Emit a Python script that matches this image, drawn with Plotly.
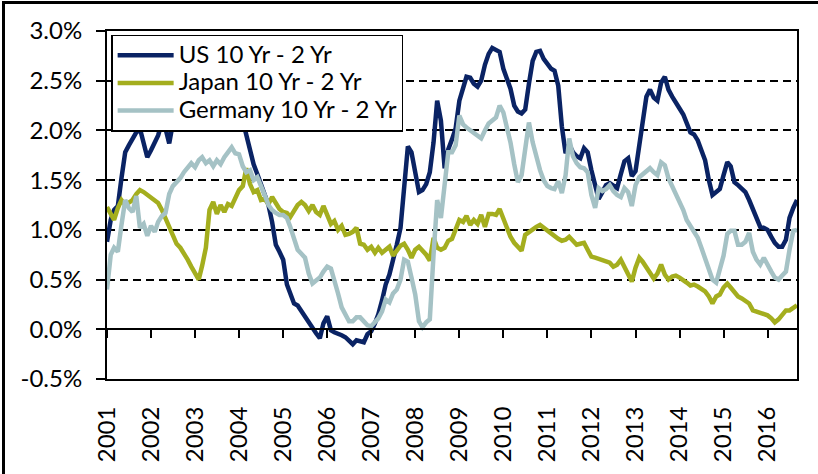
import pandas as pd
import plotly.graph_objects as go

# Monthly 10y-2y yield-curve spreads (%), Jan 2001 - Sep 2016
months = pd.date_range("2001-01-01", "2016-09-01", freq="MS")

us_spread = [
    0.88, 1.10, 1.20, 1.24, 1.52, 1.78, 1.85, 1.92, 1.98, 2.02, 1.85, 1.73,
    1.80, 1.88, 1.95, 2.08, 2.02, 1.87, 2.07, 2.18, 2.30, 2.45, 2.40, 2.35,
    2.30, 2.20, 2.10, 2.25, 2.40, 2.50, 2.55, 2.60, 2.65, 2.55, 2.50, 2.40,
    2.25, 2.08, 1.92, 1.77, 1.66, 1.56, 1.46, 1.36, 1.25, 1.08, 0.85, 0.78,
    0.70, 0.45, 0.35, 0.26, 0.24, 0.18, 0.12, 0.06, 0.02, -0.04, -0.09, 0.06,
    0.13, -0.01, -0.03, -0.04, -0.06, -0.08, -0.12, -0.15, -0.11, -0.12, -0.13, -0.05,
    -0.02, 0.06, 0.15, 0.29, 0.45, 0.55, 0.68, 0.85, 1.02, 1.45, 1.84, 1.78,
    1.56, 1.38, 1.40, 1.46, 1.58, 1.88, 2.30, 2.10, 1.62, 1.81, 1.91, 2.02,
    2.30, 2.44, 2.54, 2.53, 2.47, 2.44, 2.50, 2.66, 2.77, 2.83, 2.81, 2.79,
    2.62, 2.52, 2.42, 2.25, 2.19, 2.17, 2.21, 2.47, 2.70, 2.79, 2.80, 2.72,
    2.67, 2.62, 2.60, 2.45, 2.04, 1.77, 1.86, 1.78, 1.74, 1.72, 1.82, 1.78,
    1.60, 1.44, 1.31, 1.38, 1.45, 1.47, 1.45, 1.42, 1.56, 1.69, 1.72, 1.54,
    1.59, 1.84, 2.10, 2.34, 2.41, 2.33, 2.30, 2.48, 2.54, 2.41, 2.34, 2.29,
    2.22, 2.16, 2.08, 1.98, 1.96, 1.90, 1.80, 1.70, 1.50, 1.35, 1.38, 1.41,
    1.55, 1.68, 1.64, 1.48, 1.45, 1.42, 1.38, 1.30, 1.20, 1.12, 1.03, 1.02,
    1.00, 0.93, 0.87, 0.83, 0.83, 0.90, 1.12, 1.22, 1.30,
]

japan_spread = [
    1.23, 1.15, 1.10, 1.22, 1.30, 1.25, 1.28, 1.30, 1.36, 1.40, 1.38, 1.35,
    1.33, 1.30, 1.27, 1.20, 1.12, 1.02, 0.94, 0.86, 0.82, 0.77, 0.70, 0.63,
    0.56, 0.50, 0.64, 0.82, 1.20, 1.28, 1.16, 1.25, 1.18, 1.26, 1.24, 1.33,
    1.40, 1.44, 1.62, 1.46, 1.38, 1.40, 1.30, 1.31, 1.26, 1.33, 1.27, 1.21,
    1.18, 1.17, 1.13, 1.19, 1.25, 1.28, 1.25, 1.19, 1.25, 1.18, 1.15, 1.24,
    1.14, 1.06, 1.09, 1.00, 1.04, 0.95, 0.96, 0.98, 1.02, 0.86, 0.85, 0.80,
    0.83, 0.77, 0.82, 0.77, 0.80, 0.83, 0.74, 0.80, 0.84, 0.86, 0.80, 0.72,
    0.80, 0.83, 0.79, 0.75, 0.69, 0.92, 0.82, 0.80, 0.82, 0.89, 0.91, 1.00,
    1.10, 1.08, 1.14, 1.05, 1.10, 1.06, 1.15, 1.03, 1.16, 1.16, 1.15, 1.21,
    1.12, 1.02, 0.93, 0.87, 0.83, 0.79, 0.95, 0.98, 1.01, 1.03, 1.05, 1.02,
    0.99, 0.96, 0.93, 0.91, 0.89, 0.90, 0.93, 0.89, 0.85, 0.86, 0.87, 0.80,
    0.73, 0.72, 0.71, 0.70, 0.68, 0.67, 0.63, 0.65, 0.70, 0.62, 0.55, 0.48,
    0.62, 0.72, 0.68, 0.62, 0.56, 0.51, 0.56, 0.65, 0.55, 0.50, 0.53, 0.54,
    0.52, 0.50, 0.47, 0.44, 0.45, 0.43, 0.40, 0.38, 0.33, 0.26, 0.33, 0.35,
    0.42, 0.46, 0.42, 0.37, 0.33, 0.31, 0.29, 0.26, 0.19, 0.18, 0.17, 0.16,
    0.14, 0.11, 0.07, 0.10, 0.15, 0.19, 0.19, 0.21, 0.24,
]

germany_spread = [
    0.40, 0.75, 0.82, 0.78, 1.05, 1.30, 1.22, 1.18, 1.34, 1.02, 1.06, 0.94,
    1.04, 0.98, 1.08, 1.14, 1.17, 1.36, 1.44, 1.48, 1.52, 1.58, 1.63, 1.67,
    1.63, 1.70, 1.73, 1.67, 1.70, 1.64, 1.70, 1.66, 1.73, 1.78, 1.83, 1.77,
    1.76, 1.64, 1.58, 1.60, 1.50, 1.53, 1.45, 1.35, 1.25, 1.20, 1.17, 1.15,
    1.15, 1.12, 1.03, 0.92, 0.80, 0.76, 0.72, 0.56, 0.46, 0.49, 0.52, 0.58,
    0.63, 0.61, 0.50, 0.36, 0.22, 0.14, 0.08, 0.08, 0.12, 0.12, 0.07, 0.04,
    0.03, 0.07, 0.11, 0.18, 0.30, 0.27, 0.36, 0.40, 0.50, 0.70, 0.68, 0.52,
    0.35, 0.08, 0.02, 0.07, 0.10, 0.75, 1.30, 1.12, 1.44, 1.78, 1.78, 1.85,
    2.15, 2.06, 2.03, 2.00, 1.97, 1.94, 1.92, 2.00, 2.07, 2.10, 2.13, 2.25,
    2.18, 2.02, 1.88, 1.66, 1.48, 1.55, 1.80, 2.08, 1.88, 1.72, 1.60, 1.50,
    1.44, 1.42, 1.41, 1.49, 1.37, 1.55, 1.92, 1.74, 1.67, 1.63, 1.62, 1.58,
    1.35, 1.22, 1.42, 1.39, 1.41, 1.45, 1.39, 1.35, 1.33, 1.42, 1.38, 1.24,
    1.45, 1.53, 1.56, 1.60, 1.62, 1.58, 1.55, 1.68, 1.65, 1.52, 1.44, 1.36,
    1.28, 1.20, 1.10, 1.04, 1.00, 0.92, 0.82, 0.70, 0.58, 0.50, 0.47, 0.62,
    0.74, 0.96, 0.99, 0.99, 0.85, 0.85, 0.88, 0.97, 0.78, 0.70, 0.65, 0.72,
    0.66, 0.58, 0.52, 0.50, 0.54, 0.58, 0.80, 0.99, 1.00,
]

series_names = ["US 10 Yr - 2 Yr", "Japan 10 Yr - 2 Yr", "Germany 10 Yr - 2 Yr"]
series_colors = ["#0A2364", "#A4AE1E", "#A5C2C5"]

year_labels = [str(y) for y in range(2001, 2017)]
year_ticks = [f"{y}-01-01" for y in year_labels]

y_ticks = [-0.5, 0.0, 0.5, 1.0, 1.5, 2.0, 2.5, 3.0]
y_labels = ["-0.5%", "0.0%", "0.5%", "1.0%", "1.5%", "2.0%", "2.5%", "3.0%"]

FONT = "Lato, 'Liberation Sans', Arial, sans-serif"
TEXT_SIZE = 24
X_END = "2016-09-01"

fig = go.Figure()
for name, vals, col in zip(series_names, [us_spread, japan_spread, germany_spread], series_colors):
    fig.add_trace(go.Scatter(
        x=months, y=vals, mode="lines",
        # larger glyphs than the legend's own font keep the rows compact
        name=f'<span style="font-size:{TEXT_SIZE}px">{name}</span>',
        line=dict(color=col, width=4.5),
    ))

# carrier trace for the secondary x axis that draws the zero line with its ticks
fig.add_trace(go.Scatter(
    x=[months[0]], y=[None], xaxis="x2", yaxis="y",
    showlegend=False, hoverinfo="skip", mode="lines",
))

fig.update_layout(
    width=818, height=474,
    margin=dict(l=107, r=21, t=31, b=82),
    paper_bgcolor="white", plot_bgcolor="white",
    font=dict(family=FONT, size=TEXT_SIZE, color="black"),
    showlegend=True,
    legend=dict(
        x=0.006, y=0.989, xanchor="left", yanchor="top",
        bgcolor="white", bordercolor="black", borderwidth=1.5,
        font=dict(family=FONT, size=19, color="black"),
        itemwidth=56, tracegroupgap=0,
    ),
    xaxis=dict(
        type="date", range=["2001-01-01", X_END],
        tickvals=year_ticks, ticktext=year_labels, tickangle=-90,
        showline=True, linecolor="black", linewidth=2, mirror=True,
        ticks="", showgrid=False, zeroline=False,
        ticklabelstandoff=16,
        tickfont=dict(family=FONT, size=TEXT_SIZE, color="black"),
    ),
    xaxis2=dict(
        type="date", range=["2001-01-01", X_END], matches="x",
        overlaying="x", anchor="free", position=0.5 / 3.5,
        tickvals=year_ticks, showticklabels=False,
        ticks="outside", ticklen=8, tickwidth=2, tickcolor="black",
        showline=True, linecolor="black", linewidth=2,
        showgrid=False, zeroline=False,
    ),
    yaxis=dict(
        range=[-0.5, 3.0], tickvals=y_ticks, ticktext=y_labels,
        showline=True, linecolor="black", linewidth=2, mirror=True,
        ticks="outside", ticklen=9, tickwidth=1.5, tickcolor="black",
        showgrid=True, gridcolor="black", gridwidth=1.5, griddash="8px,5px",
        zeroline=False, ticklabelstandoff=9,
        tickfont=dict(family=FONT, size=TEXT_SIZE, color="black"),
    ),
    shapes=[
        # chart-area frame (top and left edges fall inside the canvas)
        dict(type="rect", xref="paper", yref="paper",
             x0=(3.5 - 107) / 690, x1=(840 - 107) / 690,
             y0=(392 - 500) / 361, y1=(392 - 1.5) / 361,
             line=dict(color="black", width=3), fillcolor="rgba(0,0,0,0)",
             layer="above"),
    ],
)

fig.write_html("out.html")
